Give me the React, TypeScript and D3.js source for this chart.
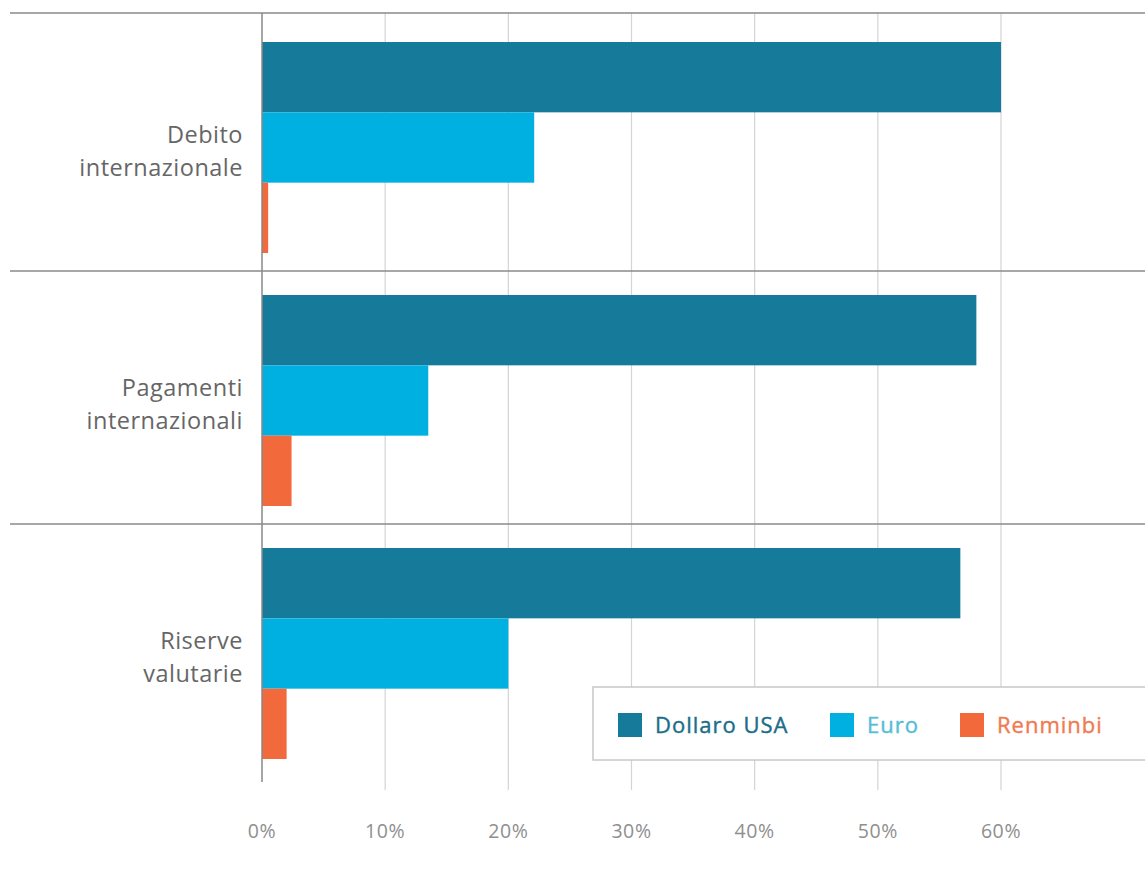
import React from "react";
import * as d3 from "d3";

const categories = ["Debito\ninternazionale", "Pagamenti\ninternazionali", "Riserve\nvalutarie"];
const seriesNames = ["Dollaro USA", "Euro", "Renminbi"];
const dollaro = [60, 58, 56.7];
const euro = [22.1, 13.5, 20.0];
const renminbi = [0.5, 2.4, 2.0];
const ticks = [0, 10, 20, 30, 40, 50, 60];
const colors = ["#167a9a", "#00b0e0", "#f26a3b"];
const textColors = ["#1b6d8a", "#55bdd6", "#f07a52"];

export default function App() {
  const W = 1145, H = 875;
  const x = d3.scaleLinear().domain([0, 60]).range([262, 1001]);
  const y = d3.scaleBand<string>().domain(categories).range([18, 777]).paddingInner(0).paddingOuter(0);
  const inner = d3.scaleBand<string>().domain(seriesNames).range([24, 235]).padding(0);
  const series = [dollaro, euro, renminbi];
  const sepYs = [13, 271, 524];
  const font = "'Open Sans', Lato, sans-serif";
  return (
    <svg width={W} height={H} style={{ position: "absolute", left: 0, top: 0, background: "#fff" }} fontFamily={font}>
      {ticks.slice(1).map((t) => (
        <line key={t} x1={x(t)} x2={x(t)} y1={13} y2={790} stroke="#d4d4d4" strokeWidth={1.2} />
      ))}
      {categories.map((c, ci) =>
        series.map((s, si) => (
          <rect
            key={c + si}
            x={x(0)}
            y={(y(c) as number) + (inner(seriesNames[si]) as number)}
            width={x(s[ci]) - x(0)}
            height={inner.bandwidth()}
            fill={colors[si]}
          />
        ))
      )}
      <line x1={262} x2={262} y1={13} y2={782} stroke="#888" strokeWidth={1.5} />
      {sepYs.map((sy) => (
        <line key={sy} x1={10} x2={W} y1={sy} y2={sy} stroke="#8a8a8a" strokeWidth={1.5} />
      ))}
      {categories.map((c) => {
        const lines = c.split("\n");
        const cy = (y(c) as number) + 24 + 211 / 2 - 2;
        return (
          <text key={c} x={243} y={cy} textAnchor="end" fontSize={23.5} fill="#666" letterSpacing={0.5}>
            {lines.map((l, i) => (
              <tspan key={i} x={243} dy={i === 0 ? -3 : 33}>{l}</tspan>
            ))}
          </text>
        );
      })}
      {ticks.map((t) => (
        <text key={t} x={x(t)} y={838} textAnchor="middle" fontSize={19.5} fill="#8f8f8f" letterSpacing={0.6}>
          {t}%
        </text>
      ))}
      <rect x={593} y={687} width={560} height={73} fill="#fff" stroke="#c8c8c8" strokeWidth={1.5} />
      {[
        { sx: 618, tx: 655 },
        { sx: 830, tx: 867 },
        { sx: 960, tx: 997 },
      ].map((p, i) => (
        <g key={i}>
          <rect x={p.sx} y={713} width={24} height={24} fill={colors[i]} />
          <text x={p.tx} y={733} fontSize={22} fill={textColors[i]} letterSpacing={1} stroke={textColors[i]} strokeWidth={0.4}>
            {seriesNames[i]}
          </text>
        </g>
      ))}
    </svg>
  );
}
